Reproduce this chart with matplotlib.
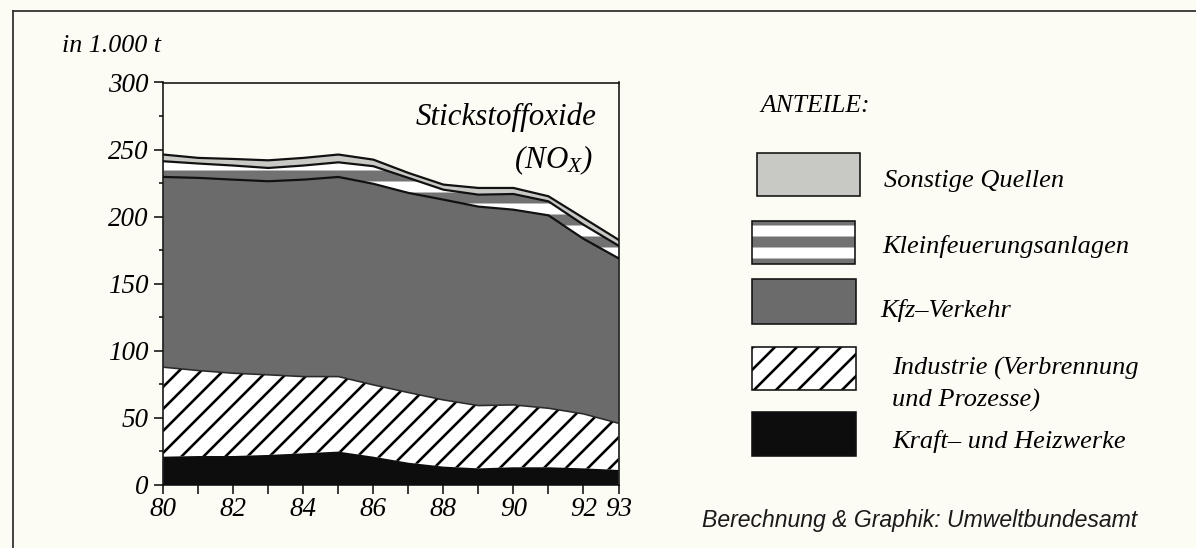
import numpy as np
import matplotlib
matplotlib.use("Agg")
import matplotlib.pyplot as plt
from matplotlib.patches import Rectangle

# ---------------- data (1.000 t NOx) ----------------
years = [80, 81, 82, 83, 84, 85, 86, 87, 88, 89, 90, 91, 92, 93]
kraft = [21.1, 21.6, 21.6, 22.4, 23.6, 24.9, 21.1, 16.6, 13.7, 12.4, 13.2, 13.2, 12.4, 11.2]
industrie = [66.7, 63.7, 61.7, 59.7, 57.2, 55.9, 53.5, 52.3, 49.7, 46.8, 46.5, 44.0, 40.6, 34.8]
kfz = [141.8, 143.6, 144.3, 144.3, 146.8, 148.8, 149.9, 148.8, 149.3, 148.3, 145.5, 143.8, 130.5, 123.0]
klein = [11.7, 10.7, 10.5, 9.9, 10.5, 10.9, 13.1, 11.2, 7.4, 8.9, 11.7, 10.4, 10.5, 9.4]
sonstige = [5.0, 4.2, 4.9, 5.7, 5.7, 5.8, 4.9, 3.7, 3.8, 5.0, 4.5, 3.8, 5.0, 4.4]

y_ticks = [0, 50, 100, 150, 200, 250, 300]
x_label_years = [80, 82, 84, 86, 88, 90, 92, 93]
legend_labels = [["Sonstige Quellen"], ["Kleinfeuerungsanlagen"], ["Kfz\u2013Verkehr"],
                 ["Industrie (Verbrennung", "und Prozesse)"], ["Kraft\u2013 und Heizwerke"]]

# ---------------- style ----------------
W, H, DPI = 1196, 548, 132


def pt(px):
    return px * 72.0 / DPI


BG = "#fcfbf4"
KFZ_GRAY = "#6b6b6b"
STRIPE_GRAY = "#727272"
LIGHT_GRAY = "#c8c8c5"

plt.rcParams["font.family"] = ["Liberation Serif", "DejaVu Serif"]
plt.rcParams["font.style"] = "italic"
plt.rcParams["mathtext.fontset"] = "custom"
plt.rcParams["mathtext.rm"] = "Liberation Serif:italic"
plt.rcParams["mathtext.it"] = "Liberation Serif:italic"
plt.rcParams["hatch.linewidth"] = pt(2.6)


def set_hlw(artist, lw):
    if hasattr(artist, "set_hatch_linewidth"):
        artist.set_hatch_linewidth(lw)


fig = plt.figure(figsize=(W / DPI, H / DPI), dpi=DPI, facecolor=BG)
x0, x1, yb, yt = 163.3, 618.5, 485.0, 82.5
ax = fig.add_axes([x0 / W, 1 - yb / H, (x1 - x0) / W, (yb - yt) / H])
ax.set_facecolor(BG)

x = np.array(years, dtype=float)
c1 = np.array(kraft)
c2 = c1 + np.array(industrie)
c3 = c2 + np.array(kfz)
c4 = c3 + np.array(klein)
c5 = c4 + np.array(sonstige)
zero = np.zeros_like(c1)

ax.fill_between(x, c2, c3, facecolor=KFZ_GRAY, edgecolor="none", lw=0, zorder=2)
kl = ax.fill_between(x, c3, c4, facecolor=STRIPE_GRAY, edgecolor="white", hatch="-", lw=0, zorder=2)
set_hlw(kl, pt(11))
ax.fill_between(x, c4, c5, facecolor=LIGHT_GRAY, edgecolor="none", lw=0, zorder=2)
ind = ax.fill_between(x, c1, c2, facecolor="white", edgecolor="black", hatch="//", lw=0, zorder=2)
set_hlw(ind, pt(2.6))
ax.fill_between(x, zero, c1, facecolor="#0d0d0d", edgecolor="none", lw=0, zorder=3)

ax.plot(x, c2, color="#2a2a2a", lw=pt(1.6), zorder=4)
ax.plot(x, c3, color="#111111", lw=pt(2.2), zorder=4)
ax.plot(x, c4, color="#111111", lw=pt(2.2), zorder=4)
ax.plot(x, c5, color="#111111", lw=pt(2.2), zorder=4)

ax.set_xlim(80, 93)
ax.set_ylim(0, 300)
ax.set_yticks(y_ticks)
ax.set_yticks(np.arange(25, 300, 50), minor=True)
ax.set_xticks(years)
ax.set_xticklabels([str(y) if y in x_label_years else "" for y in years])
ax.tick_params(axis="y", which="major", direction="out", length=pt(9), width=pt(1.5), pad=pt(6), labelsize=pt(27))
ax.tick_params(axis="y", which="minor", direction="out", length=pt(4), width=pt(1.5))
ax.tick_params(axis="x", which="major", direction="out", length=pt(9), width=pt(1.5), pad=pt(3), labelsize=pt(27))
for s in ax.spines.values():
    s.set_linewidth(pt(1.6))
    s.set_color("#111111")

# ---------------- overlay in pixel coordinates ----------------
ov = fig.add_axes([0, 0, 1, 1], facecolor="none")
ov.set_xlim(0, W)
ov.set_ylim(H, 0)
ov.axis("off")

ov.plot([13, 13], [11, H], color="#333333", lw=pt(1.8))
ov.plot([13, W], [11, 11], color="#333333", lw=pt(1.8))

ov.text(62, 52, "in 1.000 t", fontsize=pt(26), ha="left", va="baseline")
ov.text(597, 125, "Stickstoffoxide", fontsize=pt(31), ha="right", va="baseline", zorder=5)
ov.text(593, 168, r"$(NO_X)$", fontsize=pt(31), ha="right", va="baseline", zorder=5)

ov.text(760, 112, "ANTEILE:", fontsize=pt(25.6), ha="left", va="baseline")

boxes = [(757, 152.7, 860, 196), (752, 220.7, 855, 264), (752, 279, 856, 324),
         (752, 347, 856, 390), (752, 412, 856, 456)]
styles = [dict(facecolor=LIGHT_GRAY, hatch=None, hc="#111111", hlw=2.6),
          dict(facecolor=STRIPE_GRAY, hatch="-", hc="white", hlw=11),
          dict(facecolor=KFZ_GRAY, hatch=None, hc="#111111", hlw=2.6),
          dict(facecolor="white", hatch="//", hc="black", hlw=2.6),
          dict(facecolor="#0d0d0d", hatch=None, hc="#111111", hlw=2.6)]
for (bx0, by0, bx1, by1), st in zip(boxes, styles):
    if st["hatch"]:
        r = Rectangle((bx0, by0), bx1 - bx0, by1 - by0, facecolor=st["facecolor"],
                      edgecolor=st["hc"], hatch=st["hatch"], lw=0)
        set_hlw(r, pt(st["hlw"]))
        ov.add_patch(r)
        ov.add_patch(Rectangle((bx0, by0), bx1 - bx0, by1 - by0, facecolor="none",
                               edgecolor="#111111", lw=pt(1.6)))
    else:
        ov.add_patch(Rectangle((bx0, by0), bx1 - bx0, by1 - by0, facecolor=st["facecolor"],
                               edgecolor="#111111", lw=pt(1.6)))

text_pos = [[(884, 187)], [(882, 252.7)], [(880, 316.7)], [(892, 375), (892, 406.7)], [(892, 448.3)]]
for poss, labs in zip(text_pos, legend_labels):
    for (tx, ty), lab in zip(poss, labs):
        ov.text(tx, ty, lab, fontsize=pt(26.4), ha="left", va="baseline")

ov.text(1137, 526.7, "Berechnung & Graphik: Umweltbundesamt", fontsize=pt(23),
        family="Liberation Sans", style="italic", ha="right", va="baseline", color="#1a1a1a")

fig.savefig("out.png", dpi=DPI, facecolor=BG)
